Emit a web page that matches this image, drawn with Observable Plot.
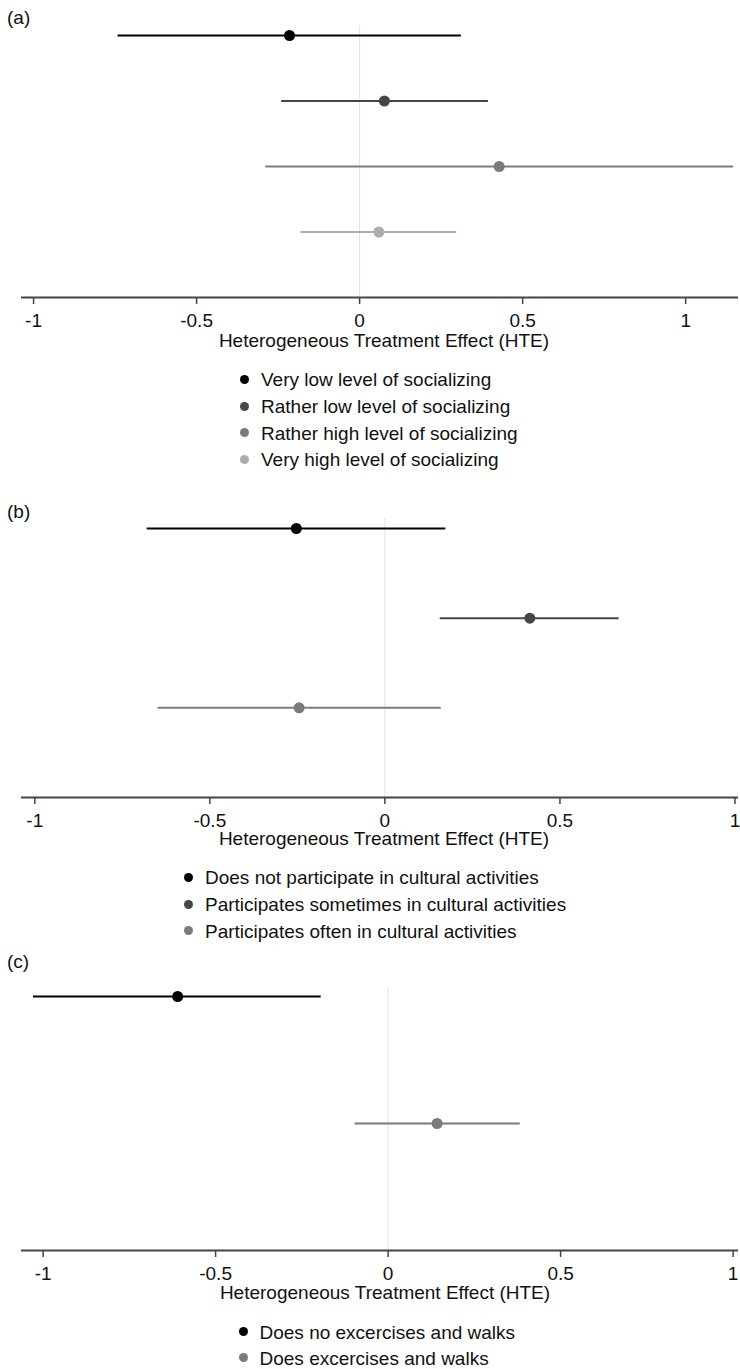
<!DOCTYPE html>
<html>
<head>
<meta charset="utf-8">
<script src="https://cdn.jsdelivr.net/npm/d3@7"></script>
<script src="https://cdn.jsdelivr.net/npm/@observablehq/plot@0.6"></script>
<style>
  html, body { margin: 0; padding: 0; background: #fff; }
  #root { position: relative; width: 740px; height: 1369px; background: #fff; overflow: hidden;
          font-family: "Liberation Sans", Arial, sans-serif; color: #111; }
  .abs { position: absolute; }
  .plabel { font-size: 19px; line-height: 19px; }
  .title { font-size: 19px; line-height: 19px; white-space: nowrap; transform: translateX(-50%); }
  .legend { font-size: 19px; }
  .legend .row { display: flex; align-items: center; white-space: nowrap; }
  .legend .dot { width: 9px; height: 9px; border-radius: 50%; margin-right: 12px; margin-top: -2px; flex: none; }
</style>
</head>
<body>
<div id="root"></div>
<script>
// ---- data ----
const tickValues = [-1, -0.5, 0, 0.5, 1];
const tickLabels = ["-1", "-0.5", "0", "0.5", "1"];
const axisTitle = "Heterogeneous Treatment Effect (HTE)";

const shades = ["#000000", "#464646", "#7b7b7b", "#adadad"];

const aLabels = ["Very low level of socializing", "Rather low level of socializing",
                 "Rather high level of socializing", "Very high level of socializing"];
const aEst = [-0.215, 0.076, 0.428, 0.059];
const aLow = [-0.741, -0.239, -0.288, -0.180];
const aHigh = [0.312, 0.395, 1.147, 0.298];
const aColors = [shades[0], shades[1], shades[2], shades[3]];

const bLabels = ["Does not participate in cultural activities",
                 "Participates sometimes in cultural activities",
                 "Participates often in cultural activities"];
const bEst = [-0.253, 0.414, -0.245];
const bLow = [-0.679, 0.158, -0.648];
const bHigh = [0.174, 0.669, 0.161];
const bColors = [shades[0], shades[1], shades[2]];

const cLabels = ["Does no excercises and walks", "Does excercises and walks"];
const cEst = [-0.610, 0.142];
const cLow = [-1.028, -0.096];
const cHigh = [-0.194, 0.383];
const cColors = [shades[0], shades[2]];

// ---- layout ----
const panels = [
  {tag: "(a)", labels: aLabels, est: aEst, low: aLow, high: aHigh, colors: aColors,
   xDomain: [-1.037, 1.162], svgTop: 20, frameH: 272, inset: 10,
   tagTop: 7.5, titleTop: 331, titleX: 384, legTop: 367, legLeft: 240, legRow: 26.7},
  {tag: "(b)", labels: bLabels, est: bEst, low: bLow, high: bHigh, colors: bColors,
   xDomain: [-1.038, 1.010], svgTop: 512, frameH: 280, inset: 11,
   tagTop: 501.5, titleTop: 829, titleX: 384, legTop: 865, legLeft: 184, legRow: 26.7},
  {tag: "(c)", labels: cLabels, est: cEst, low: cLow, high: cHigh, colors: cColors,
   xDomain: [-1.0626, 1.0156], svgTop: 982, frameH: 263, inset: 9,
   tagTop: 952, titleTop: 1283, titleX: 385, legTop: 1319.5, legLeft: 238.5, legRow: 26}
];

const root = document.getElementById("root");

function addDiv(cls, text, left, top) {
  const d = document.createElement("div");
  d.className = "abs " + cls;
  d.textContent = text;
  d.style.left = left + "px";
  d.style.top = top + "px";
  root.appendChild(d);
  return d;
}

for (const p of panels) {
  const n = p.labels.length;
  const rows = p.labels.map((label, i) => ({
    label, idx: i + 1, est: p.est[i], low: p.low[i], high: p.high[i], color: p.colors[i]
  }));
  const mt = 5, mb = 33;
  const chart = Plot.plot({
    width: 740,
    height: mt + p.frameH + mb,
    marginLeft: 21, marginRight: 2, marginTop: mt, marginBottom: mb,
    style: {fontFamily: '"Liberation Sans", Arial, sans-serif', fontSize: "19px", color: "#111", background: "transparent", overflow: "visible"},
    x: {domain: p.xDomain},
    y: {domain: [1, n + 1], reverse: true, insetTop: p.inset, axis: null},
    color: {type: "identity"},
    marks: [
      Plot.ruleX([0], {stroke: "#e2e2e2", strokeWidth: 1}),
      Plot.ruleY(rows, {y: "idx", x1: "low", x2: "high", stroke: "color", strokeWidth: 2}),
      Plot.dot(rows, {x: "est", y: "idx", r: 5.5, fill: "color", stroke: null}),
      Plot.ruleY([n + 1], {stroke: "#444", strokeWidth: 1.8}),
      Plot.axisX({ticks: tickValues, tickFormat: d => tickLabels[tickValues.indexOf(d)],
                  tickSize: 7, tickPadding: 8.5, fontSize: 19, stroke: "#444", strokeWidth: 1.5,
                  fill: "#111", label: null})
    ]
  });
  chart.style.position = "absolute";
  chart.style.left = "0px";
  chart.style.top = p.svgTop + "px";
  root.appendChild(chart);

  addDiv("plabel", p.tag, 7, p.tagTop);
  addDiv("title", axisTitle, p.titleX, p.titleTop);

  const leg = document.createElement("div");
  leg.className = "abs legend";
  leg.style.left = p.legLeft + "px";
  leg.style.top = p.legTop + "px";
  rows.forEach(r => {
    const row = document.createElement("div");
    row.className = "row";
    row.style.height = p.legRow + "px";
    const dot = document.createElement("span");
    dot.className = "dot";
    dot.style.background = r.color;
    const t = document.createElement("span");
    t.textContent = r.label;
    row.appendChild(dot);
    row.appendChild(t);
    leg.appendChild(row);
  });
  root.appendChild(leg);
}
</script>
</body>
</html>
